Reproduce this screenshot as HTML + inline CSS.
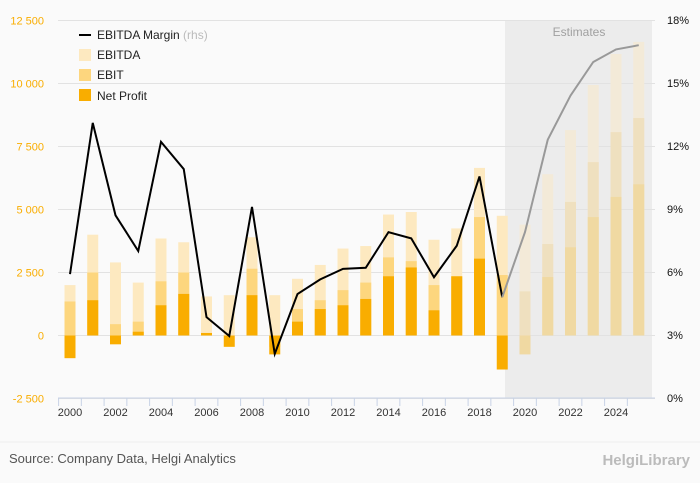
<!DOCTYPE html>
<html><head><meta charset="utf-8"><style>
body{margin:0;background:#fafafa;font-family:"Liberation Sans",sans-serif;}
svg{display:block}
</style></head><body>
<svg id="c" width="700" height="483">
<rect width="700" height="483" fill="#fafafa"/>
<line x1="0" y1="442" x2="700" y2="442" stroke="#eeeeee"/>
<rect x="505" y="20" width="147" height="378" fill="#ececec"/>
<text x="579" y="36" text-anchor="middle" font-size="12" fill="#a0a0a0">Estimates</text>
<g id="grid"></g><g id="bars"></g><g id="line"></g><g id="axes"></g>
<g font-size="12" fill="#222">
<line x1="79" y1="35" x2="91" y2="35" stroke="#000" stroke-width="2"/>
<text x="97" y="39">EBITDA Margin <tspan fill="#bbb">(rhs)</tspan></text>
<rect x="79" y="49" width="12" height="12" fill="#fde9c0"/><text x="97" y="59">EBITDA</text>
<rect x="79" y="69" width="12" height="12" fill="#fdd67e"/><text x="97" y="79">EBIT</text>
<rect x="79" y="89" width="12" height="12" fill="#f9ad00"/><text x="97" y="100">Net Profit</text>
</g>
<text x="9" y="463" font-size="13" fill="#555">Source: Company Data, Helgi Analytics</text>
<text x="690" y="465" text-anchor="end" font-size="15" font-weight="bold" fill="#bbb">HelgiLibrary</text>
</svg>
<script>
const years=[2000,2001,2002,2003,2004,2005,2006,2007,2008,2009,2010,2011,2012,2013,2014,2015,2016,2017,2018,2019,2020,2021,2022,2023,2024,2025];
const ebitda=[2000,4000,2900,2100,3850,3700,1550,1600,3900,1600,2250,2800,3450,3550,4800,4900,3800,4250,6650,4750,4400,6400,8150,9940,11170,11650];
const ebit=[1350,2500,450,550,2150,2500,100,0,2650,-450,1050,1400,1800,2100,3100,2950,2000,2350,4700,2400,1750,3630,5300,6880,8070,8630];
const net=[-900,1400,-350,150,1200,1650,100,-450,1600,-750,550,1050,1200,1450,2350,2700,1000,2350,3050,-1350,-750,2320,3500,4700,5500,6000];
const margin=[5.9,13.1,8.7,7.0,12.2,10.9,3.85,2.95,9.1,2.1,4.95,5.65,6.15,6.2,7.9,7.6,5.75,7.25,10.55,4.8,7.9,12.3,14.4,16.0,16.6,16.8];
const leftTicks=[-2500,0,2500,5000,7500,10000,12500];
const leftLabels=["-2 500","0","2 500","5 000","7 500","10 000","12 500"];
const rightTicks=[0,3,6,9,12,15,18];
const firstEstimate=2020;
const NS="http://www.w3.org/2000/svg";
const y=v=>335.5-v*0.0252;
const yr=p=>398-p*21;
const x=yr0=>70+(yr0-2000)*22.75;
function mk(t,a,p){const e=document.createElementNS(NS,t);for(const k in a)e.setAttribute(k,a[k]);document.getElementById(p).appendChild(e);return e;}
leftTicks.forEach((v,i)=>{
 const g=mk('line',{x1:58,x2:655,y1:y(v),y2:y(v),stroke:'#e2e2e2'},'grid');
 
 
 const t=mk('text',{x:44,y:y(v)+4,'text-anchor':'end','font-size':11,fill:'#f9ad00'},'axes');
 t.textContent=leftLabels[i];
 
 
});
rightTicks.forEach(p=>{
 const t=mk('text',{x:667,y:yr(p)+4,'font-size':11,fill:'#111'},'axes');
 t.textContent=p+'%';
 
 
});
const ax=mk('line',{x1:58,x2:655,y1:398,y2:398,stroke:'#c8d3e6'},'axes');


years.forEach((yy,i)=>{
 const tk=mk('line',{x1:x(yy)-11.4,x2:x(yy)-11.4,y1:398,y2:406,stroke:'#c8d3e6'},'axes');
 
 
 if(yy%2===0){const t=mk('text',{x:x(yy),y:416,'text-anchor':'middle','font-size':11,fill:'#333'},'axes');t.textContent=yy;
 
 }
 const est=yy>=firstEstimate;
 const cols=est?['#f3ead8','#efe0bf','#f0d9a2']:['#fde9c0','#fdd67e','#f9ad00'];
 [[ebitda,'ebitda'],[ebit,'ebit'],[net,'net-profit']].forEach(([arr,n],k)=>{
  const v=arr[i];const r=mk('rect',{x:x(yy)-5.5,width:11,y:Math.min(y(v),y(0)),height:Math.abs(y(v)-y(0)),fill:cols[k]},'bars');
  
  
 });
});
const hi=years.map((yy,i)=>[x(yy),yr(margin[i])]);
const idx=years.indexOf(firstEstimate-1);
const p1=mk('polyline',{points:hi.slice(0,idx+1).join(' '),fill:'none',stroke:'#000','stroke-width':2},'line');


const p2=mk('polyline',{points:hi.slice(idx).join(' '),fill:'none',stroke:'#999','stroke-width':2},'line');


</script>
</body></html>
